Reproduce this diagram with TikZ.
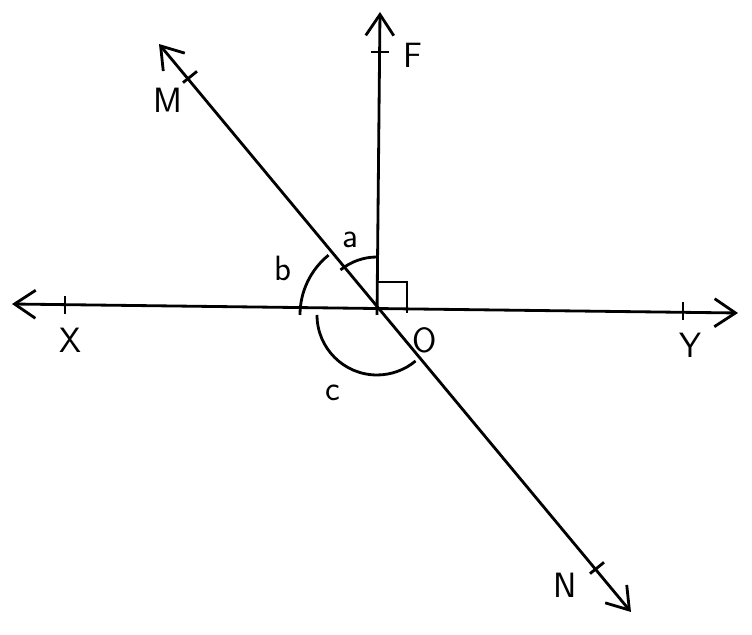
\documentclass[tikz,border=0pt]{standalone}
\usepackage{tikz}
\usetikzlibrary{arrows.meta}

\begin{document}
\begin{tikzpicture}[
    x=0.02cm, y=0.02cm,
    line/.style={line width=1.6pt, {Straight Barb[length=4.2mm,width=5.6mm]}-{Straight Barb[length=4.2mm,width=5.6mm]}},
    ray/.style={line width=1.6pt, -{Straight Barb[length=4.2mm,width=5.6mm]}},
    anglemark/.style={line width=1.6pt},
    tickmark/.pic={\draw[line width=1.6pt] (0,-9) -- (0,9);},
    label/.style={font=\sffamily\fontsize{20}{24}\selectfont},
    small/.style={font=\sffamily\fontsize{20}{24}\selectfont}
]
\useasboundingbox (0,0) rectangle (752,635);
% Points
\coordinate (O) at (377,320);
\coordinate (Xa) at (12,331);
\coordinate (Ya) at (738,322);
\coordinate (Fa) at (380,623);
\coordinate (Ma) at (159,591);
\coordinate (Na) at (631,23);

% Lines
\draw[line] (Xa) -- (Ya);
\draw[line] (Ma) -- (Na);
\draw[ray] (O) -- (Fa);

% Ticks
\pic at (65,330) {tickmark};
\pic at (683,324) {tickmark};
\pic[rotate=90] at (380,583) {tickmark};
\pic[rotate=-51] at (190,558) {tickmark};
\pic[rotate=-51] at (597,67) {tickmark};

% Angles
\draw[anglemark] (O) ++(90:58) arc[start angle=90, end angle=129, radius=58];
\draw[anglemark] (O) ++(129:77) arc[start angle=129, end angle=180, radius=77];
\draw[anglemark] (O) ++(180:60) arc[start angle=180, end angle=310, radius=60];
\draw[anglemark] (377,353) -- (407,353) -- (407,322);

% Labels
\node[label] (lM) at (168,535) {M};
\node[label] (lF) at (413,580) {F};
\node[label] (lX) at (70,295) {X};
\node[label] (lY) at (690,290) {Y};
\node[label] (lO) at (425,295) {O};
\node[label] (lN) at (565,50) {N};
\node[small] (la) at (350,395) {a};
\node[small] (lb) at (283,367) {b};
\node[small] (lc) at (333,242) {c};
\end{tikzpicture}
\end{document}
